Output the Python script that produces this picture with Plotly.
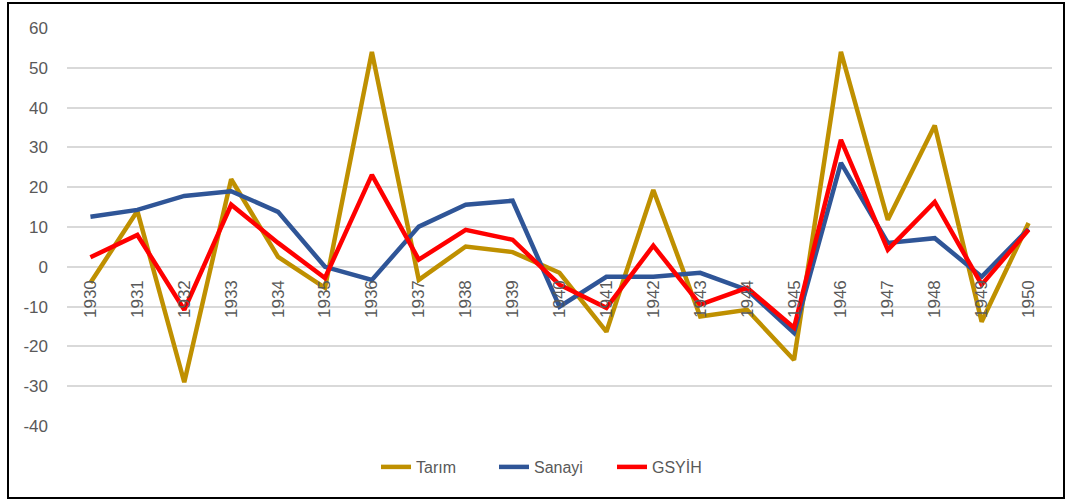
import plotly.graph_objects as go

years = [str(y) for y in range(1930, 1951)]
tarim = [-4.0, 14, -29, 22, 2.5, -5.3, 54, -3.3, 5.1, 3.7, -1.5, -16.3, 19.3, -12.5, -10.8, -23.4, 54, 11.8, 35.5, -13.8, 11]
sanayi = [12.6, 14.3, 17.8, 19, 13.8, 0, -3.3, 10.1, 15.6, 16.6, -10, -2.5, -2.5, -1.5, -5.8, -16.6, 26.1, 6, 7.2, -2.5, 9.5]
gsyih = [2.4, 8, -10.8, 15.6, 6, -2.8, 23.1, 1.8, 9.3, 6.8, -4.5, -10.3, 5.3, -9.5, -5.3, -15.3, 31.9, 4.3, 16.3, -4.5, 9.3]
y_ticks = list(range(-40, 61, 10))
y_tick_labels = [str(v) for v in y_ticks]  # plain hyphen minus, as in the original

W, H = 1067, 502
ml, mr, mt, mb = 67, 15, 28, 76
ymin, ymax = -40, 60

fig = go.Figure()
fig.add_trace(go.Scatter(x=years, y=tarim, name="Tarım", mode="lines",
                         line=dict(color="#BF9000", width=4.5)))
fig.add_trace(go.Scatter(x=years, y=sanayi, name="Sanayi", mode="lines",
                         line=dict(color="#2F5597", width=4.5)))
fig.add_trace(go.Scatter(x=years, y=gsyih, name="GSYİH", mode="lines",
                         line=dict(color="#FF0000", width=4.5)))

# x axis sits at y = 0 like the Excel original
zero_pos = (0 - ymin) / (ymax - ymin)

fig.update_layout(
    width=W, height=H,
    margin=dict(l=ml, r=mr, t=mt, b=mb),
    plot_bgcolor="white", paper_bgcolor="white",
    font=dict(family="Liberation Sans, Arial, sans-serif", color="#595959", size=16),
    showlegend=True,
    legend=dict(orientation="h", x=(376 - ml) / 985, xanchor="left", y=-0.103, yanchor="middle",
                font=dict(size=16, color="#595959"), entrywidth=73, entrywidthmode="pixels"),
    xaxis=dict(type="category", range=[-0.5, 20.5], showgrid=False, showline=False,
               zeroline=False, ticks="", tickangle=-90, anchor="free",
               position=zero_pos, ticklabelstandoff=9,
               tickfont=dict(size=17, color="#595959")),
    yaxis=dict(range=[ymin, ymax], tickvals=y_ticks, ticktext=y_tick_labels,
               showgrid=True, gridcolor="#D9D9D9",
               gridwidth=1.5, zeroline=True, zerolinecolor="#D9D9D9", zerolinewidth=1.5,
               showline=False, ticks="", ticklabelstandoff=18,
               tickfont=dict(size=17, color="#595959")),
)

pw = W - ml - mr
ph = H - mt - mb
fig.add_shape(type="rect", xref="paper", yref="paper",
              x0=(8 - ml) / pw, x1=(1064 - ml) / pw,
              y0=(H - mb - 498) / ph, y1=(H - mb - 3) / ph,
              line=dict(color="black", width=2), fillcolor="rgba(0,0,0,0)", layer="above")

fig.write_html("out.html", config={"displayModeBar": False},
               post_script="document.body.style.margin='0';")
